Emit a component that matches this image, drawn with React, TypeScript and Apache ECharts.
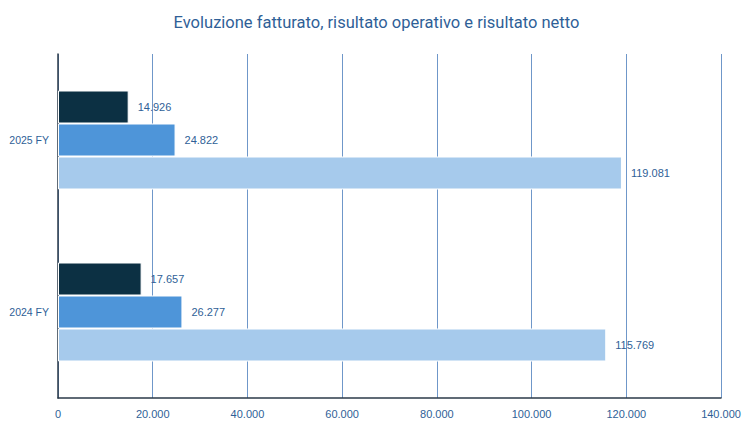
import React, { useEffect, useRef } from "react";
import * as echarts from "echarts";

const categories = ["2024 FY", "2025 FY"];
const fatturato = [115769, 119081];
const risultatoOperativo = [26277, 24822];
const risultatoNetto = [17657, 14926];
const xTicks = { min: 0, max: 140000, interval: 20000 };

const FONT = "'Liberation Sans Narrow', 'Roboto', sans-serif";
const TEXT = "#2f5f97";

function fmt(v: number): string {
  const s = Math.round(v).toString();
  return s.replace(/\B(?=(\d{3})+(?!\d))/g, ".");
}

export default function App() {
  const ref = useRef<HTMLDivElement>(null);
  useEffect(() => {
    if (!ref.current) return;
    const chart = echarts.init(ref.current, undefined, { renderer: "svg" });
    const label = {
      show: true,
      position: "right" as const,
      distance: 9,
      color: TEXT,
      fontFamily: "Liberation Sans, Arial, sans-serif",
      fontSize: 11,
      formatter: (p: any) => fmt(p.value),
    };
    chart.setOption({
      animation: false,
      title: {
        text: "Evoluzione fatturato, risultato operativo e risultato netto",
        left: "center",
        top: 1,
        textStyle: { color: TEXT, fontFamily: FONT, fontSize: 16.5, fontWeight: "normal" },
      },
      grid: {
        left: 50,
        right: 24,
        top: 46,
        bottom: 20,
        containLabel: false,
        outerBoundsMode: "none",
      },
      xAxis: {
        type: "value",
        min: xTicks.min,
        max: xTicks.max,
        interval: xTicks.interval,
        axisLine: { show: true, lineStyle: { color: "#2b3a48", width: 1.5 } },
        axisTick: { show: false },
        splitLine: { show: true, lineStyle: { color: "#6f97c9", width: 1 } },
        axisLabel: {
          color: TEXT,
          fontFamily: "Liberation Sans, Arial, sans-serif",
          fontSize: 11,
          margin: 10,
          formatter: (v: number) => fmt(v),
        },
      },
      yAxis: {
        type: "category",
        data: categories,
        axisLine: { show: true, lineStyle: { color: "#2b3a48", width: 1.5 } },
        axisTick: { show: false },
        axisLabel: {
          color: TEXT,
          fontFamily: "Liberation Sans, Arial, sans-serif",
          fontSize: 10.5,
          margin: 9,
        },
      },
      series: [
        {
          name: "Risultato netto",
          type: "bar",
          data: risultatoNetto,
          barWidth: 33,
          barGap: "0%",
          itemStyle: { color: "#0c3043", borderColor: "#ffffff", borderWidth: 1 },
          label,
        },
        {
          name: "Risultato operativo",
          type: "bar",
          data: risultatoOperativo,
          barWidth: 33,
          barGap: "0%",
          itemStyle: { color: "#4e95d9", borderColor: "#ffffff", borderWidth: 1 },
          label,
        },
        {
          name: "Fatturato",
          type: "bar",
          data: fatturato,
          barWidth: 33,
          barGap: "0%",
          itemStyle: { color: "#a6caec", borderColor: "#ffffff", borderWidth: 1 },
          label,
        },
      ],
    });
    return () => chart.dispose();
  }, []);
  return <div ref={ref} style={{ width: 737, height: 410 }} />;
}
